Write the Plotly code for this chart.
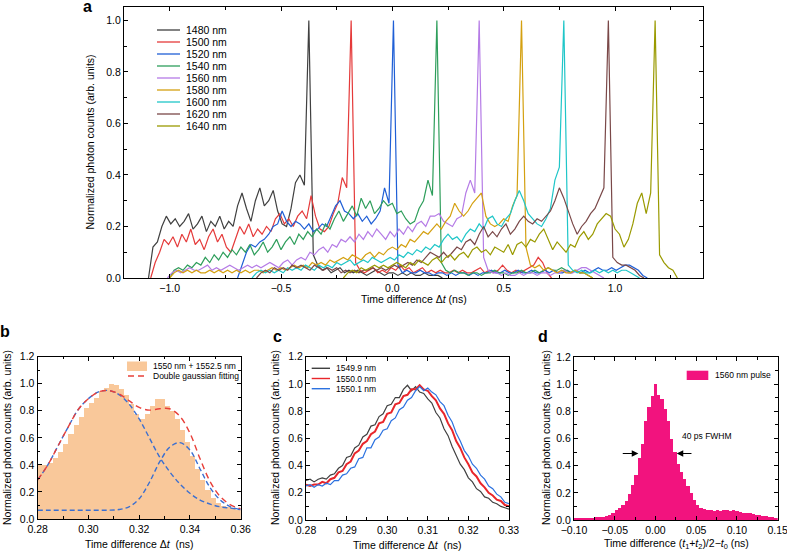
import plotly.graph_objects as go

W, H = 787, 553
FONT = "Liberation Sans, Arial, sans-serif"

# ---------------- Panel a data ----------------
DT = 0.02
wl_labels = ["1480 nm", "1500 nm", "1520 nm", "1540 nm", "1560 nm",
             "1580 nm", "1600 nm", "1620 nm", "1640 nm"]
wl_colors = ["#404040", "#E53A3A", "#1F5FD6", "#2E9E5B", "#B57BE6",
             "#D4A010", "#1FC6C8", "#7A4848", "#9A9A00"]
t_start = [-1.095, -1.085, -0.695, -1.00, -1.01, -1.00, -0.63, -0.61, -0.22]

y1480 = [0.00, 0.12, 0.14, 0.20, 0.24, 0.21, 0.23, 0.20, 0.22, 0.25, 0.19, 0.21, 0.24, 0.18, 0.22,
         0.20, 0.24, 0.19, 0.22, 0.20, 0.28, 0.33, 0.27, 0.22, 0.30, 0.35, 0.28, 0.30, 0.34, 0.26,
         0.21, 0.20, 0.27, 0.37, 0.40, 0.36, 1.00,
         0.09, 0.05, 0.03, 0.04, 0.02, 0.03, 0.04, 0.02, 0.03, 0.02, 0.03, 0.02, 0.01, 0.02, 0.03,
         0.02, 0.01, 0.02, 0.02, 0.01, 0.02, 0.01, 0.02, 0.01, 0.01, 0.02, 0.01, 0.01, 0.01, 0.00]
y1500 = [0.00, 0.06, 0.10, 0.15, 0.13, 0.16, 0.12, 0.17, 0.14, 0.19, 0.13, 0.15, 0.11, 0.16, 0.19,
         0.14, 0.17, 0.12, 0.10, 0.15, 0.20, 0.17, 0.21, 0.16, 0.19, 0.17, 0.20, 0.18, 0.23, 0.25,
         0.21, 0.23, 0.20, 0.24, 0.26, 0.23, 0.32, 0.24, 0.19, 0.18, 0.20, 0.25, 0.29, 0.39, 0.35, 1.00,
         0.06, 0.03, 0.02, 0.03, 0.04, 0.02, 0.03, 0.02, 0.04, 0.03, 0.05, 0.03, 0.04, 0.02, 0.03,
         0.04, 0.02, 0.03, 0.02, 0.03, 0.02, 0.02, 0.03, 0.02, 0.03, 0.02, 0.02, 0.03, 0.04, 0.02,
         0.03, 0.02, 0.03, 0.05, 0.03, 0.02, 0.03, 0.02, 0.03, 0.04, 0.05, 0.08, 0.06, 0.02, 0.00]
y1520 = [0.00, 0.05, 0.10, 0.13, 0.12, 0.14, 0.15, 0.17, 0.20, 0.21, 0.26, 0.22, 0.20, 0.22, 0.21,
         0.19, 0.21, 0.18, 0.19, 0.21, 0.20, 0.24, 0.28, 0.30, 0.26, 0.25, 0.23, 0.25, 0.22, 0.24,
         0.21, 0.23, 0.26, 0.35, 0.29, 1.00,
         0.05, 0.02, 0.03, 0.02, 0.02, 0.03, 0.02, 0.02, 0.01, 0.02, 0.02, 0.01, 0.02, 0.01, 0.02,
         0.02, 0.01, 0.02, 0.01, 0.02, 0.02, 0.03, 0.02, 0.02, 0.03, 0.02, 0.02, 0.03, 0.02, 0.02,
         0.03, 0.02, 0.02, 0.03, 0.02, 0.03, 0.02, 0.02, 0.03, 0.02, 0.03, 0.02, 0.03, 0.02, 0.03,
         0.04, 0.03, 0.03, 0.04, 0.03, 0.04, 0.05, 0.05, 0.04, 0.03, 0.01, 0.00]
y1540 = [0.00, 0.03, 0.04, 0.03, 0.05, 0.04, 0.06, 0.05, 0.08, 0.06, 0.09, 0.07, 0.10, 0.08, 0.11,
         0.09, 0.12, 0.10, 0.13, 0.09, 0.11, 0.14, 0.10, 0.12, 0.15, 0.11, 0.14, 0.16, 0.13, 0.17,
         0.15, 0.18, 0.16, 0.19, 0.17, 0.21, 0.19, 0.23, 0.26, 0.22, 0.25, 0.28, 0.24, 0.31, 0.27,
         0.30, 0.25, 0.27, 0.30, 0.28, 0.29, 0.25, 0.26, 0.23, 0.21, 0.22, 0.27, 0.30, 0.38, 0.32, 1.00,
         0.06, 0.03, 0.02, 0.03, 0.02, 0.02, 0.01, 0.02, 0.02, 0.01, 0.02, 0.02, 0.03, 0.02, 0.02,
         0.01, 0.02, 0.02, 0.03, 0.02, 0.02, 0.03, 0.02, 0.03, 0.04, 0.03, 0.03, 0.04, 0.03, 0.02,
         0.03, 0.02, 0.02, 0.01, 0.00]
y1560 = [0.00, 0.02, 0.03, 0.02, 0.03, 0.04, 0.03, 0.03, 0.04, 0.05, 0.03, 0.04, 0.03, 0.04, 0.05,
         0.04, 0.03, 0.04, 0.05, 0.04, 0.05, 0.04, 0.05, 0.06, 0.05, 0.04, 0.06, 0.07, 0.05, 0.07,
         0.08, 0.07, 0.10, 0.09, 0.11, 0.12, 0.10, 0.13, 0.12, 0.15, 0.14, 0.16, 0.14, 0.17, 0.15,
         0.18, 0.16, 0.19, 0.17, 0.15, 0.18, 0.16, 0.19, 0.17, 0.20, 0.18, 0.21, 0.22, 0.20, 0.24,
         0.24, 0.25, 0.22, 0.21, 0.20, 0.23, 0.24, 0.33, 0.38, 0.33, 1.00,
         0.08, 0.03, 0.02, 0.02, 0.01, 0.02, 0.01, 0.01, 0.02, 0.01, 0.02, 0.02, 0.01, 0.02, 0.02,
         0.01, 0.02, 0.02, 0.03, 0.02, 0.02, 0.03, 0.04, 0.04, 0.03, 0.02, 0.01, 0.00]
y1580 = [0.00, 0.02, 0.03, 0.02, 0.03, 0.02, 0.03, 0.02, 0.02, 0.03, 0.02, 0.03, 0.02, 0.03, 0.02,
         0.03, 0.02, 0.03, 0.02, 0.03, 0.03, 0.02, 0.03, 0.04, 0.03, 0.04, 0.03, 0.04, 0.05, 0.04,
         0.05, 0.04, 0.06, 0.05, 0.06, 0.05, 0.07, 0.06, 0.07, 0.08, 0.07, 0.09, 0.08, 0.07, 0.09,
         0.10, 0.08, 0.10, 0.09, 0.11, 0.12, 0.11, 0.13, 0.12, 0.15, 0.14, 0.16, 0.18, 0.17, 0.19,
         0.21, 0.19, 0.22, 0.24, 0.29, 0.26, 0.24, 0.26, 0.29, 0.31, 0.33, 0.24, 0.21, 0.20, 0.21,
         0.23, 0.22, 0.28, 0.32, 1.00,
         0.12, 0.05, 0.04, 0.05, 0.03, 0.04, 0.03, 0.02, 0.03, 0.02, 0.02, 0.03, 0.02, 0.02, 0.01, 0.00]
y1600 = [0.00, 0.02, 0.03, 0.02, 0.03, 0.02, 0.03, 0.02, 0.04, 0.03, 0.04, 0.03, 0.05, 0.04, 0.03,
         0.05, 0.04, 0.05, 0.04, 0.06, 0.05, 0.06, 0.07, 0.05, 0.06, 0.07, 0.06, 0.08, 0.07, 0.06,
         0.07, 0.08, 0.07, 0.09, 0.08, 0.10, 0.09, 0.11, 0.10, 0.12, 0.11, 0.13, 0.12, 0.15, 0.17,
         0.15, 0.16, 0.14, 0.17, 0.19, 0.18, 0.21, 0.19, 0.23, 0.24, 0.21, 0.20, 0.23, 0.25, 0.30,
         0.34, 0.30, 0.25, 0.23, 0.21, 0.20, 0.23, 0.27, 0.38, 0.43, 1.00,
         0.05, 0.03, 0.02, 0.03, 0.02, 0.02, 0.03, 0.02, 0.03, 0.02, 0.03, 0.02, 0.03, 0.03, 0.02, 0.01, 0.00]
y1620 = [0.00, 0.02, 0.03, 0.02, 0.04, 0.03, 0.04, 0.03, 0.05, 0.04, 0.05, 0.04, 0.03, 0.05, 0.04,
         0.03, 0.04, 0.03, 0.04, 0.02, 0.03, 0.02, 0.03, 0.02, 0.03, 0.03, 0.04, 0.03, 0.04, 0.03,
         0.04, 0.05, 0.04, 0.05, 0.06, 0.05, 0.07, 0.06, 0.08, 0.10, 0.09, 0.08, 0.10, 0.08, 0.10,
         0.12, 0.11, 0.14, 0.15, 0.13, 0.17, 0.20, 0.16, 0.18, 0.16, 0.19, 0.21, 0.17, 0.19, 0.22,
         0.24, 0.22, 0.21, 0.23, 0.22, 0.24, 0.26, 0.30, 0.35, 0.31, 0.26, 0.21, 0.17, 0.20, 0.22,
         0.25, 0.27, 0.31, 0.35, 1.00,
         0.08, 0.06, 0.05, 0.05, 0.04, 0.03, 0.01, 0.00]
y1640 = [0.00, 0.02, 0.03, 0.02, 0.04, 0.03, 0.04, 0.05, 0.04, 0.05, 0.04, 0.05, 0.06, 0.05, 0.04,
         0.06, 0.05, 0.07, 0.06, 0.05, 0.07, 0.08, 0.06, 0.08, 0.09, 0.07, 0.09, 0.10, 0.08, 0.11,
         0.12, 0.10, 0.11, 0.09, 0.12, 0.11, 0.10, 0.13, 0.09, 0.13, 0.14, 0.12, 0.15, 0.14, 0.17,
         0.19, 0.15, 0.11, 0.14, 0.12, 0.10, 0.13, 0.12, 0.16, 0.18, 0.15, 0.17, 0.21, 0.23, 0.25,
         0.24, 0.19, 0.17, 0.12, 0.15, 0.21, 0.29, 0.33, 0.25, 0.33, 1.00,
         0.09, 0.06, 0.04, 0.03, 0.00]
series_a = [y1480, y1500, y1520, y1540, y1560, y1580, y1600, y1620, y1640]

# ---------------- Panel b data ----------------
b_bin_left = 0.280
b_bin_width = 0.002
b_counts = [0.40, 0.40, 0.42, 0.45, 0.50, 0.56, 0.63, 0.70, 0.76, 0.82,
            0.86, 0.90, 0.95, 0.97, 1.00, 0.99, 0.96, 0.92, 0.85, 0.78,
            0.74, 0.78, 0.84, 0.89, 0.89, 0.84, 0.80, 0.74, 0.66, 0.57,
            0.47, 0.37, 0.29, 0.22, 0.16, 0.12, 0.10, 0.09, 0.08, 0.07]
b_fit_t = [0.280, 0.284, 0.288, 0.292, 0.296, 0.300, 0.304, 0.308, 0.312, 0.316, 0.320,
           0.324, 0.328, 0.332, 0.336, 0.340, 0.344, 0.348, 0.352, 0.356, 0.360]
b_fit_sum = [0.29, 0.40, 0.54, 0.68, 0.81, 0.89, 0.94, 0.95, 0.925, 0.875, 0.825,
             0.805, 0.815, 0.815, 0.76, 0.635, 0.445, 0.275, 0.165, 0.105, 0.075]
b_gauss1 = [0.29, 0.40, 0.54, 0.68, 0.81, 0.89, 0.94, 0.95, 0.92, 0.85, 0.74,
            0.60, 0.46, 0.35, 0.26, 0.19, 0.14, 0.11, 0.09, 0.08, 0.07]
b_gauss2 = [0.065, 0.065, 0.065, 0.065, 0.065, 0.065, 0.065, 0.065, 0.07, 0.09, 0.15,
            0.27, 0.42, 0.53, 0.565, 0.51, 0.37, 0.23, 0.14, 0.09, 0.07]

# ---------------- Panel c data ----------------
c_t0 = 0.280
c_dt = 0.001
c_labels = ["1549.9 nm", "1550.0 nm", "1550.1 nm"]
c_colors = ["#404040", "#E8262B", "#2C72E0"]
c_1549_9 = [0.29, 0.30, 0.28, 0.30, 0.31, 0.30, 0.33, 0.34, 0.38, 0.40, 0.46, 0.47, 0.53, 0.55,
            0.61, 0.63, 0.69, 0.70, 0.76, 0.78, 0.84, 0.85, 0.90, 0.90, 0.96, 0.99, 0.95, 0.98,
            0.94, 0.93, 0.89, 0.86, 0.79, 0.75, 0.67, 0.62, 0.54, 0.48, 0.41, 0.37, 0.31, 0.28,
            0.23, 0.21, 0.17, 0.16, 0.13, 0.12, 0.10, 0.09, 0.08]
c_1550_0 = [0.26, 0.25, 0.26, 0.26, 0.28, 0.27, 0.30, 0.31, 0.35, 0.36, 0.41, 0.43, 0.49, 0.51,
            0.56, 0.58, 0.63, 0.65, 0.71, 0.72, 0.78, 0.79, 0.85, 0.86, 0.91, 0.92, 0.96, 0.96,
            0.99, 0.96, 0.95, 0.91, 0.88, 0.82, 0.78, 0.71, 0.66, 0.58, 0.53, 0.46, 0.41, 0.35,
            0.32, 0.27, 0.24, 0.20, 0.18, 0.15, 0.14, 0.11, 0.10]
c_1550_1 = [0.25, 0.26, 0.24, 0.26, 0.25, 0.27, 0.26, 0.29, 0.29, 0.33, 0.34, 0.38, 0.39, 0.45,
            0.46, 0.53, 0.53, 0.59, 0.61, 0.66, 0.67, 0.73, 0.75, 0.81, 0.83, 0.88, 0.90, 0.95,
            0.98, 0.95, 0.97, 0.94, 0.92, 0.87, 0.84, 0.77, 0.72, 0.64, 0.58, 0.51, 0.47, 0.41,
            0.38, 0.33, 0.30, 0.25, 0.23, 0.19, 0.17, 0.13, 0.12]
series_c = [c_1549_9, c_1550_0, c_1550_1]

# ---------------- Panel d data ----------------
d_bin_first_center = -0.100
d_bin_width = 0.004
d_counts = [0.010, 0.010, 0.010, 0.015, 0.010, 0.015, 0.015, 0.020, 0.020, 0.025,
            0.030, 0.040, 0.055, 0.070, 0.085, 0.110, 0.140, 0.190, 0.260, 0.330,
            0.460, 0.560, 0.730, 0.830, 0.910, 1.000, 0.920, 0.890, 0.820, 0.730,
            0.600, 0.500, 0.410, 0.350, 0.300, 0.250, 0.200, 0.150, 0.110, 0.085,
            0.080, 0.075, 0.070, 0.065, 0.070, 0.065, 0.075, 0.070, 0.065, 0.070,
            0.065, 0.060, 0.055, 0.050, 0.050, 0.045, 0.040, 0.035, 0.030, 0.030,
            0.025, 0.020, 0.015]
d_label = "1560 nm pulse"
d_fwhm_text = "40 ps FWHM"
d_fwhm_left = [-0.042, -0.021]
d_fwhm_right = [0.046, 0.026]
d_fwhm_level = 0.49


def px(x):
    return x / W


def py(y):
    return 1 - y / H


fig = go.Figure()

# panel a traces
for lab, col, t0, ys in zip(wl_labels, wl_colors, t_start, series_a):
    xs = [t0 + DT * i for i in range(len(ys))]
    fig.add_trace(go.Scatter(x=xs, y=ys, mode="lines", name=lab,
                             line=dict(color=col, width=1.2),
                             xaxis="x", yaxis="y", showlegend=False))

# panel b traces
b_centers = [b_bin_left + b_bin_width * (i + 0.5) for i in range(len(b_counts))]
fig.add_trace(go.Bar(x=b_centers, y=b_counts, width=b_bin_width,
                     marker=dict(color="#F9C89A", line=dict(width=0)),
                     xaxis="x2", yaxis="y2", showlegend=False))
for g in (b_gauss1, b_gauss2):
    fig.add_trace(go.Scatter(x=b_fit_t, y=g, mode="lines", line_shape="spline",
                             line=dict(color="#3B6FD0", width=1.4, dash="5px,3px"),
                             xaxis="x2", yaxis="y2", showlegend=False))
fig.add_trace(go.Scatter(x=b_fit_t, y=b_fit_sum, mode="lines", line_shape="spline",
                         line=dict(color="#E8403A", width=1.4, dash="6px,4px"),
                         xaxis="x2", yaxis="y2", showlegend=False))

# panel c traces
c_times = [c_t0 + c_dt * i for i in range(len(c_1549_9))]
for lab, col, ys, wdt in zip(c_labels, c_colors, series_c, [1.2, 2.0, 1.2]):
    fig.add_trace(go.Scatter(x=c_times, y=ys, mode="lines", name=lab,
                             line=dict(color=col, width=wdt),
                             xaxis="x3", yaxis="y3", showlegend=False))

# panel d traces
d_centers = [d_bin_first_center + d_bin_width * i for i in range(len(d_counts))]
fig.add_trace(go.Bar(x=d_centers, y=d_counts, width=d_bin_width,
                     marker=dict(color="#F2137E", line=dict(width=0)),
                     xaxis="x4", yaxis="y4", showlegend=False))

axis_common = dict(showline=True, linecolor="black", linewidth=1.3, mirror="ticks",
                   ticks="inside", ticklen=4, tickwidth=1, tickcolor="black",
                   showgrid=False, zeroline=False, automargin=False,
                   ticklabeloverflow="allow",
                   tickfont=dict(size=10.5, color="black", family=FONT))
minor_common = dict(ticks="inside", ticklen=2.5, tickwidth=1, tickcolor="black", showgrid=False)

fig.update_layout(
    template="none",
    width=W, height=H, margin=dict(l=0, r=0, t=0, b=0, autoexpand=False),
    paper_bgcolor="white", plot_bgcolor="white",
    font=dict(family=FONT, color="black"),
    bargap=0, barmode="overlay", showlegend=False,
    xaxis=dict(axis_common, domain=[px(124), px(703)], range=[-1.205, 1.395], anchor="y",
               tick0=0, dtick=0.5, tickformat=".1f", minor=dict(minor_common, dtick=0.25)),
    yaxis=dict(axis_common, domain=[py(278), py(7)], range=[0, 1.052], anchor="x",
               tick0=0, dtick=0.2, tickformat=".1f", minor=dict(minor_common, dtick=0.1)),
    xaxis2=dict(axis_common, domain=[px(37.7), px(240.7)], range=[0.28, 0.36001], anchor="y2",
                tick0=0.28, dtick=0.02, tickformat=".2f", minor=dict(minor_common, dtick=0.01)),
    yaxis2=dict(axis_common, domain=[py(519), py(356.7)], range=[0, 1.2001], anchor="x2",
                tick0=0, dtick=0.2, tickformat=".1f", minor=dict(minor_common, dtick=0.1)),
    xaxis3=dict(axis_common, domain=[px(306), px(509)], range=[0.28, 0.33001], anchor="y3",
                tick0=0.28, dtick=0.01, tickformat=".2f", minor=dict(minor_common, dtick=0.005)),
    yaxis3=dict(axis_common, domain=[py(520), py(356.7)], range=[0, 1.2001], anchor="x3",
                tick0=0, dtick=0.2, tickformat=".1f", minor=dict(minor_common, dtick=0.1)),
    xaxis4=dict(axis_common, domain=[px(574), px(777.7)], range=[-0.1, 0.15001], anchor="y4",
                tick0=0, dtick=0.05, tickformat=".2f", minor=dict(minor_common, dtick=0.025)),
    yaxis4=dict(axis_common, domain=[py(520), py(357)], range=[0, 1.2001], anchor="x4",
                tick0=0, dtick=0.2, tickformat=".1f", minor=dict(minor_common, dtick=0.1)),
)

shapes = []
annotations = []


def text(x, y, s, size=10.5, xanchor="center", yanchor="middle", angle=0):
    annotations.append(dict(x=px(x), y=py(y), xref="paper", yref="paper", text=s,
                            showarrow=False, xanchor=xanchor, yanchor=yanchor, textangle=angle,
                            font=dict(size=size, color="black", family=FONT)))


# panel letters
for lt, lx, ly in [("a", 87, 7), ("b", 5, 331), ("c", 277, 336), ("d", 543, 336)]:
    text(lx, ly, "<b>" + lt + "</b>", size=16)

# axis titles
ytitle = "Normalized photon counts (arb. units)"
text(89, 142.5, ytitle, angle=-90)
text(413.5, 299, "Time difference Δ<i>t</i> (ns)")
text(7, 438, ytitle, angle=-90)
text(139, 544, "Time difference Δ<i>t</i>  (ns)")
text(275, 438, ytitle, angle=-90)
text(407.5, 545, "Time difference Δ<i>t</i>  (ns)")
text(546, 438, ytitle, angle=-90)
text(676, 544, "Time difference (<i>t</i><sub>1</sub>+<i>t</i><sub>2</sub>)/2−<i>t</i><sub>0</sub> (ns)")

# legend a
for i, (lab, col) in enumerate(zip(wl_labels, wl_colors)):
    yy = 30 + 12 * i
    shapes.append(dict(type="line", xref="paper", yref="paper", x0=px(157), x1=px(180),
                       y0=py(yy), y1=py(yy), line=dict(color=col, width=1.3)))
    text(184, yy, lab, size=10.5, xanchor="left")

# legend b
shapes.append(dict(type="rect", xref="paper", yref="paper", x0=px(127), x1=px(147),
                   y0=py(371), y1=py(361.5), fillcolor="#F9C89A", line=dict(width=0)))
text(151, 366, "1550 nm + 1552.5 nm", size=8.5, xanchor="left")
shapes.append(dict(type="line", xref="paper", yref="paper", x0=px(128), x1=px(147),
                   y0=py(376), y1=py(376), line=dict(color="#E8403A", width=1.4, dash="6px,4px")))
text(151, 376, "Double gaussian fitting", size=8.5, xanchor="left")

# legend c
for i, (lab, col) in enumerate(zip(c_labels, c_colors)):
    yy = 368.3 + 10.2 * i
    shapes.append(dict(type="line", xref="paper", yref="paper", x0=px(311.7), x1=px(330),
                       y0=py(yy), y1=py(yy), line=dict(color=col, width=1.4)))
    text(334, yy, lab, size=8.5, xanchor="left")

# legend d
shapes.append(dict(type="rect", xref="paper", yref="paper", x0=px(686.7), x1=px(708.3),
                   y0=py(380), y1=py(370.7), fillcolor="#F2137E", line=dict(width=0)))
text(712.7, 375, d_label, size=8.5, xanchor="left")

# FWHM arrows and label (panel d)
for (x_from, x_to) in (d_fwhm_left, d_fwhm_right):
    annotations.append(dict(x=x_to, y=d_fwhm_level, ax=x_from, ay=d_fwhm_level,
                            xref="x4", yref="y4", axref="x4", ayref="y4",
                            text="", showarrow=True, arrowhead=2, arrowsize=1.2,
                            arrowwidth=1.1, arrowcolor="black"))
annotations.append(dict(x=0.063, y=0.615, xref="x4", yref="y4", text=d_fwhm_text,
                        showarrow=False, font=dict(size=8.5, color="black", family=FONT)))

fig.update_layout(shapes=shapes, annotations=annotations)
fig.write_html("out.html", config={"displayModeBar": False},
               post_script="document.body.style.margin='0px';document.body.style.padding='0px';")
